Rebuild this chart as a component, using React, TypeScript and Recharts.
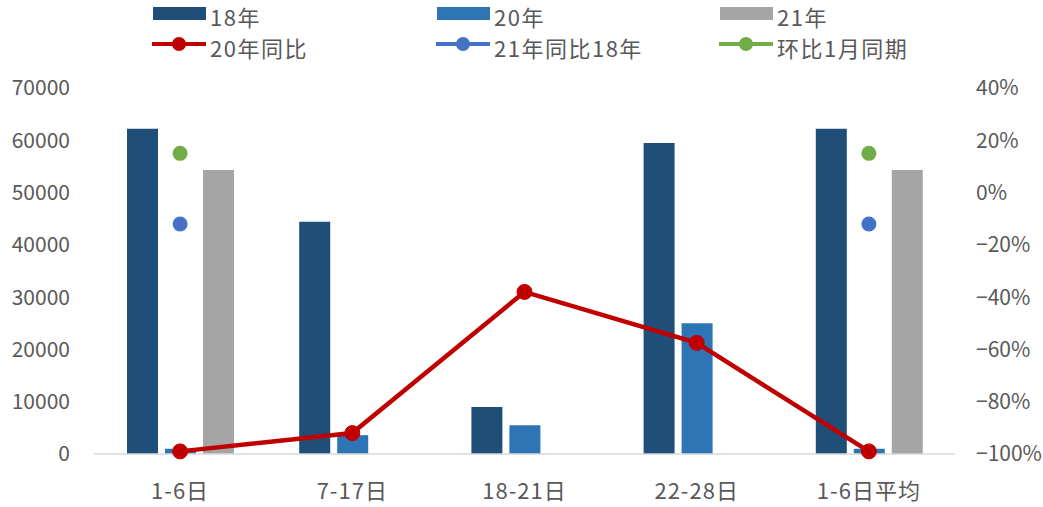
import { ComposedChart, Bar, Line, XAxis, YAxis } from "recharts"

const categories = ["1-6日", "7-17日", "18-21日", "22-28日", "1-6日平均"]
const sales18 = [62200, 44400, 9000, 59500, 62200]
const sales20 = [1000, 3600, 5500, 25000, 1000]
const sales21 = [54300, null, null, null, 54300]
const yoy20 = [-99, -92, -38, -57.5, -99]
const yoy21vs18 = [-12, null, null, null, -12]
const momJan = [15, null, null, null, 15]

const leftTicks = [0, 10000, 20000, 30000, 40000, 50000, 60000, 70000]
const rightTicks = [-100, -80, -60, -40, -20, 0, 20, 40]

const FONT = "'Noto Sans CJK SC', 'Noto Sans', sans-serif"
const TEXT = "#595959"

const C18 = "#1F4E79"
const C20 = "#2E75B6"
const C21 = "#A5A5A5"
const CYOY = "#C00000"
const CYOY18 = "#4472C4"
const CMOM = "#70AD47"

const data = categories.map((name, i) => ({
  name,
  s18: sales18[i],
  s20: sales20[i],
  s21: sales21[i],
  yoy20: yoy20[i],
  yoy21: yoy21vs18[i],
  mom: momJan[i],
}))

const pct = (v: number) => (v < 0 ? `\u2212${Math.abs(v)}%` : `${v}%`)

function LegendBox() {
  const barItems = [
    { x: 153, label: "18年", color: C18 },
    { x: 437, label: "20年", color: C20 },
    { x: 720, label: "21年", color: C21 },
  ]
  const lineItems = [
    { x: 153, label: "20年同比", color: CYOY },
    { x: 437, label: "21年同比18年", color: CYOY18 },
    { x: 720, label: "环比1月同期", color: CMOM },
  ]
  return (
    <svg
      width={1043}
      height={70}
      style={{ position: "absolute", left: 0, top: 0 }}
      fontFamily={FONT}
      fontSize={22}
      letterSpacing={1.5}
      fill={TEXT}
    >
      {barItems.map((it) => (
        <g key={it.label}>
          <rect x={it.x} y={7} width={53} height={13} fill={it.color} />
          <text x={it.x + 57} y={26}>
            {it.label}
          </text>
        </g>
      ))}
      {lineItems.map((it) => (
        <g key={it.label}>
          <line x1={it.x - 1} x2={it.x + 53} y1={44} y2={44} stroke={it.color} strokeWidth={4} />
          <circle cx={it.x + 26} cy={44} r={7} fill={it.color} />
          <text x={it.x + 57} y={57}>
            {it.label}
          </text>
        </g>
      ))}
    </svg>
  )
}

export default function App() {
  return (
    <div style={{ position: "absolute", left: 0, top: 0, width: 1043, height: 507, background: "#fff" }}>
      <ComposedChart
        width={1043}
        height={507}
        data={data}
        margin={{ top: 88, right: 0, bottom: 0, left: 0 }}
        barSize={31}
        barGap={7}
      >
        <XAxis
          dataKey="name"
          axisLine={{ stroke: "#D9D9D9", strokeWidth: 1.5 }}
          tickLine={false}
          tickSize={0}
          tickMargin={29}
          height={53}
          tick={{ fill: TEXT, fontSize: 22, fontFamily: FONT, letterSpacing: 1 }}
          interval={0}
        />
        <YAxis
          yAxisId="left"
          domain={[0, 70000]}
          ticks={leftTicks}
          width={94}
          axisLine={false}
          tickLine={false}
          tickSize={0}
          tickMargin={24}
          tick={{ fill: TEXT, fontSize: 21, fontFamily: FONT }}
        />
        <YAxis
          yAxisId="right"
          orientation="right"
          domain={[-100, 40]}
          ticks={rightTicks}
          width={88}
          axisLine={false}
          tickLine={false}
          tickSize={0}
          tickMargin={21}
          tickFormatter={pct}
          tick={{ fill: TEXT, fontSize: 21, fontFamily: FONT }}
        />
        <Bar yAxisId="left" dataKey="s18" fill={C18} isAnimationActive={false} />
        <Bar yAxisId="left" dataKey="s20" fill={C20} isAnimationActive={false} />
        <Bar yAxisId="left" dataKey="s21" fill={C21} isAnimationActive={false} />
        <Line
          yAxisId="right"
          dataKey="yoy20"
          stroke={CYOY}
          strokeWidth={4.5}
          dot={{ r: 7.5, fill: CYOY, stroke: CYOY, strokeWidth: 1 }}
          activeDot={false}
          isAnimationActive={false}
        />
        <Line
          yAxisId="right"
          dataKey="yoy21"
          stroke="none"
          dot={{ r: 7.5, fill: CYOY18, stroke: CYOY18, strokeWidth: 0 }}
          activeDot={false}
          isAnimationActive={false}
        />
        <Line
          yAxisId="right"
          dataKey="mom"
          stroke="none"
          dot={{ r: 7.5, fill: CMOM, stroke: CMOM, strokeWidth: 0 }}
          activeDot={false}
          isAnimationActive={false}
        />
      </ComposedChart>
      <LegendBox />
    </div>
  )
}
